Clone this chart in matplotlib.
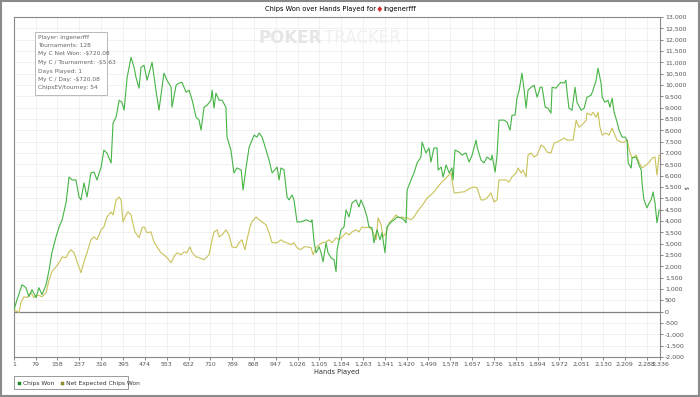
import matplotlib
matplotlib.use("Agg")
import matplotlib.pyplot as plt
from matplotlib.patches import Rectangle

# hands played / chips won
won_hands = [1, 12, 30, 44, 55, 66, 81, 91, 102, 117, 128, 138, 153, 164, 175, 189, 200, 211, 225, 236,
             243, 254, 265, 279, 290, 301, 316, 326, 337, 352, 359, 370, 381, 391, 399, 410, 424, 435, 442, 453,
             460, 471, 482, 500, 514, 525, 543, 554, 569, 572, 587, 597, 608, 623, 634, 645, 659, 670, 677, 688,
             699, 713, 717, 724, 731, 742, 753, 767, 771, 785, 796, 807, 822, 829, 840, 851, 869, 879, 887, 898,
             912, 923, 934, 952, 959, 966, 977, 988, 995, 1006, 1013, 1024, 1038, 1057, 1075, 1078, 1086, 1093, 1104, 1111,
             1118, 1129, 1136, 1147, 1158, 1165, 1169, 1183, 1194, 1201, 1212, 1223, 1237, 1248, 1255, 1266, 1277, 1284, 1295, 1302,
             1313, 1324, 1331, 1342, 1349, 1364, 1375, 1386, 1400, 1411, 1418, 1422, 1436, 1447, 1458, 1472, 1476, 1490, 1501, 1508,
             1519, 1530, 1534, 1545, 1552, 1563, 1574, 1584, 1588, 1595, 1610, 1620, 1635, 1646, 1657, 1671, 1675, 1689, 1700, 1711,
             1725, 1729, 1740, 1747, 1754, 1772, 1783, 1794, 1801, 1812, 1819, 1827, 1837, 1845, 1852, 1859, 1870, 1881, 1892, 1903,
             1910, 1921, 1931, 1942, 1946, 1960, 1968, 1978, 1989, 1996, 2000, 2007, 2018, 2029, 2036, 2051, 2062, 2072, 2087, 2094,
             2105, 2112, 2123, 2127, 2137, 2148, 2155, 2163, 2170, 2181, 2188, 2199, 2210, 2217, 2221, 2232, 2235, 2250, 2260, 2268,
             2271, 2278, 2289, 2297, 2304, 2311, 2318, 2325, 2333]
chips_won = [90, 530, 1190, 1060, 660, 970, 620, 1060, 750, 1190, 1850, 2600, 3300, 3740, 4050, 4800, 5940, 5810, 5810, 5060,
             4930, 5680, 5060, 6120, 6160, 5810, 6380, 7130, 7000, 6560, 8320, 8580, 9330, 9240, 8890, 10340, 11220, 10780, 10340, 9860,
             10780, 10870, 10210, 11000, 9770, 8890, 10520, 10210, 9900, 9020, 9990, 10080, 10120, 9680, 9770, 9330, 8580, 8450, 8010, 9020,
             9110, 9330, 9770, 8980, 9640, 9330, 9330, 9020, 7700, 7130, 6120, 6340, 6250, 5370, 6380, 7260, 7790, 7700, 7880, 7700,
             7130, 6690, 6120, 6380, 5810, 6340, 6250, 5060, 4930, 5150, 4930, 3960, 3960, 4050, 3960, 4050, 3040, 2600, 2860, 2600,
             2200, 3040, 2600, 2380, 2290, 1760, 2730, 3610, 3740, 4490, 4180, 4800, 4930, 4620, 4930, 4620, 4180, 3740, 3700, 3040,
             3610, 3170, 3480, 2600, 3740, 3960, 4050, 4180, 4140, 4050, 3920, 5370, 5810, 6120, 6560, 6820, 7480, 7000, 7220, 6600,
             7220, 7220, 6250, 6380, 5940, 6470, 6120, 6340, 5810, 7130, 7040, 6910, 7000, 6600, 6910, 7570, 7260, 6690, 6560, 6820,
             6690, 6910, 6160, 6910, 8450, 8450, 8360, 8010, 8670, 8670, 9420, 9770, 10520, 9770, 8980, 9770, 9900, 9990, 9460, 9900,
             9900, 9020, 8980, 8760, 9900, 9860, 9990, 10120, 10080, 10210, 9680, 8980, 8890, 9900, 9240, 8890, 8980, 9460, 9550, 9770,
             10210, 10740, 10080, 9460, 9240, 9330, 9020, 9420, 8800, 8360, 8010, 7700, 7700, 7570, 6560, 6340, 6780, 6820, 6470, 6250,
             5680, 4930, 4580, 4800, 4930, 5280, 4800, 3920, 4490]

ev_hands = [1, 19, 26, 37, 48, 62, 73, 84, 102, 117, 128, 138, 153, 164, 175, 189, 200, 207, 218, 229,
            243, 254, 265, 279, 290, 301, 316, 326, 337, 352, 359, 370, 381, 388, 395, 406, 413, 424, 438, 453,
            464, 471, 482, 496, 507, 518, 532, 543, 554, 569, 579, 590, 605, 616, 626, 637, 645, 659, 670, 688,
            706, 717, 724, 735, 742, 753, 767, 778, 789, 804, 814, 825, 836, 843, 854, 861, 876, 887, 898, 912,
            923, 934, 952, 966, 977, 988, 1002, 1013, 1024, 1038, 1049, 1060, 1075, 1082, 1093, 1104, 1115, 1129, 1140, 1151,
            1165, 1176, 1187, 1201, 1212, 1223, 1237, 1248, 1259, 1273, 1284, 1295, 1310, 1317, 1328, 1335, 1346, 1357, 1368, 1382,
            1393, 1404, 1411, 1422, 1436, 1447, 1458, 1472, 1483, 1494, 1508, 1519, 1530, 1545, 1555, 1566, 1581, 1584, 1592, 1602,
            1617, 1628, 1639, 1653, 1664, 1675, 1689, 1700, 1711, 1725, 1736, 1747, 1754, 1765, 1780, 1790, 1801, 1816, 1823, 1834,
            1841, 1852, 1859, 1870, 1881, 1892, 1906, 1917, 1928, 1942, 1953, 1964, 1978, 1989, 2000, 2015, 2022, 2033, 2043, 2054,
            2069, 2072, 2087, 2094, 2105, 2112, 2119, 2127, 2141, 2152, 2163, 2170, 2181, 2196, 2206, 2217, 2228, 2235, 2250, 2260,
            2271, 2286, 2297, 2308, 2318, 2325, 2333]
ev_won = [90, -40, 400, 660, 620, 840, 620, 750, 660, 840, 1410, 1760, 1980, 2160, 2420, 2380, 2640, 2730, 2600, 2200,
          1720, 2200, 2600, 3170, 3300, 3170, 3610, 3740, 4180, 4400, 4270, 4930, 5060, 4930, 3960, 4270, 4400, 4270, 3520, 3260,
          3700, 3740, 3480, 3520, 3080, 2860, 2600, 2510, 2380, 2160, 2420, 2600, 2510, 2640, 2600, 2860, 2600, 2420, 2380, 2290,
          2510, 3170, 3520, 3610, 3300, 3390, 3610, 3390, 2860, 2820, 3040, 3170, 2730, 3170, 3740, 3960, 4180, 4050, 3960, 3830,
          3480, 3040, 3040, 3170, 3080, 3040, 2950, 3040, 2820, 2730, 2860, 2860, 2820, 2510, 2820, 2950, 3040, 3080, 3170, 3040,
          3260, 3170, 3300, 3480, 3390, 3520, 3610, 3520, 3740, 3700, 3740, 3610, 3170, 4140, 3830, 3300, 3480, 3920, 4050, 4270,
          4140, 4180, 4140, 4140, 4050, 4180, 4400, 4620, 4800, 5020, 5150, 5280, 5460, 5680, 5810, 5940, 6120, 5810, 5240, 5240,
          5280, 5280, 5370, 5460, 5500, 5460, 4930, 4930, 5020, 5240, 4840, 4930, 5810, 5810, 5810, 5720, 5940, 6120, 6340, 6120,
          6250, 5940, 6910, 7000, 6820, 6910, 7350, 7260, 7040, 7000, 7440, 7480, 7570, 7660, 7570, 7570, 7570, 8450, 8140, 8230,
          8450, 8760, 8670, 8800, 8580, 8800, 8140, 7790, 7880, 7790, 8100, 7880, 7570, 7480, 7480, 7570, 7000, 6780, 6910, 6600,
          6340, 6470, 6600, 6780, 6820, 6030, 6910]

x_ticks = [1, 79, 158, 237, 316, 395, 474, 553, 632, 710, 789, 868, 947, 1026, 1105, 1184, 1263, 1341,
           1420, 1499, 1578, 1657, 1736, 1815, 1894, 1972, 2051, 2130, 2209, 2288, 2336]
y_ticks = list(range(-2000, 13001, 500))

info_lines = ["Player: ingenerfff", "Tournaments: 128", "My C Net Won: -$720.08",
              "My C / Tournament: -$5.63", "Days Played: 1", "My C / Day: -$720.08",
              "ChipsEV/tourney: 54"]

green = "#45b445"
olive = "#c9c25a"

fig = plt.figure(figsize=(7, 3.97), dpi=100)
ax = fig.add_axes([14/700, 1-357/397, 646/700, 340/397])

ax.plot(ev_hands, ev_won, color=olive, lw=0.8, zorder=3)
ax.plot(won_hands, chips_won, color=green, lw=0.8, zorder=4)
ax.axhline(0, color="#808080", lw=0.9, zorder=2)

ax.set_xlim(1, 2336)
ax.set_ylim(-2000, 13000)
ax.set_xticks(x_ticks)
ax.set_xticklabels([f"{t:,}" for t in x_ticks])
ax.set_yticks(y_ticks)
ax.set_yticklabels([f"{t:,}" for t in y_ticks])
ax.yaxis.tick_right()
ax.tick_params(axis="both", labelsize=4.5, colors="#555555", length=2, width=0.5, pad=1.5)
ax.grid(True, color="#ececec", lw=0.5)
ax.set_axisbelow(True)
for s in ax.spines.values():
    s.set_color("#8a8a8a")
    s.set_linewidth(0.8)

fig.text(337/700, 1-372/397, "Hands Played", fontsize=4.8, ha="center", va="center", color="#333333")
fig.text(685/700, 1-188/397, "$", fontsize=4, ha="center", va="center", rotation=270, color="#333333")

# title with red site icon
fig.text(376/700, 1-9/397, "Chips Won over Hands Played for", fontsize=4.8, ha="right", va="center")
fig.text(379/700, 1-9/397, "\u2666", fontsize=6, ha="center", va="center", color="#d42a2a")
fig.text(383/700, 1-9/397, "ingenerfff", fontsize=4.8, ha="left", va="center")

# watermark
fig.text(322/700, 1-38/397, "POKER", fontsize=12, fontweight="bold", ha="right", va="center",
         color="#e6e6e6", zorder=0)
fig.text(324/700, 1-38/397, "TRACKER", fontsize=12, ha="left", va="center",
         color="#f0f0f0", zorder=0)

# info box
fig.patches.append(Rectangle((35/700, 1-95/397), 72/700, 63/397, transform=fig.transFigure,
                             fill=True, facecolor="white", edgecolor="#b0b0b0", lw=0.6, zorder=5))
for i, line in enumerate(info_lines):
    fig.text(38/700, 1-(37 + i*8.5)/397, line, fontsize=4.2, ha="left", va="center", color="#666666", zorder=6)

# legend box
fig.patches.append(Rectangle((14/700, 1-389/397), 114/700, 13/397, transform=fig.transFigure,
                             fill=False, edgecolor="#8a8a8a", lw=0.6))
fig.patches.append(Rectangle((18/700, 1-385/397), 3/700, 3/397, transform=fig.transFigure,
                             facecolor="#1f8a2a", edgecolor="#1f8a2a", lw=0.3))
fig.text(23/700, 1-383.5/397, "Chips Won", fontsize=4.3, ha="left", va="center", color="#333333")
fig.patches.append(Rectangle((61/700, 1-385/397), 3/700, 3/397, transform=fig.transFigure,
                             facecolor="#9a9a30", edgecolor="#6a6a20", lw=0.3))
fig.text(66/700, 1-383.5/397, "Net Expected Chips Won", fontsize=4.3, ha="left", va="center", color="#333333")

# outer frame
fig.patches.append(Rectangle((0.002, 0.003), 0.996, 0.994, transform=fig.transFigure,
                             fill=False, edgecolor="#8a8a8a", lw=1.5))

fig.savefig("out.png", dpi=100)
